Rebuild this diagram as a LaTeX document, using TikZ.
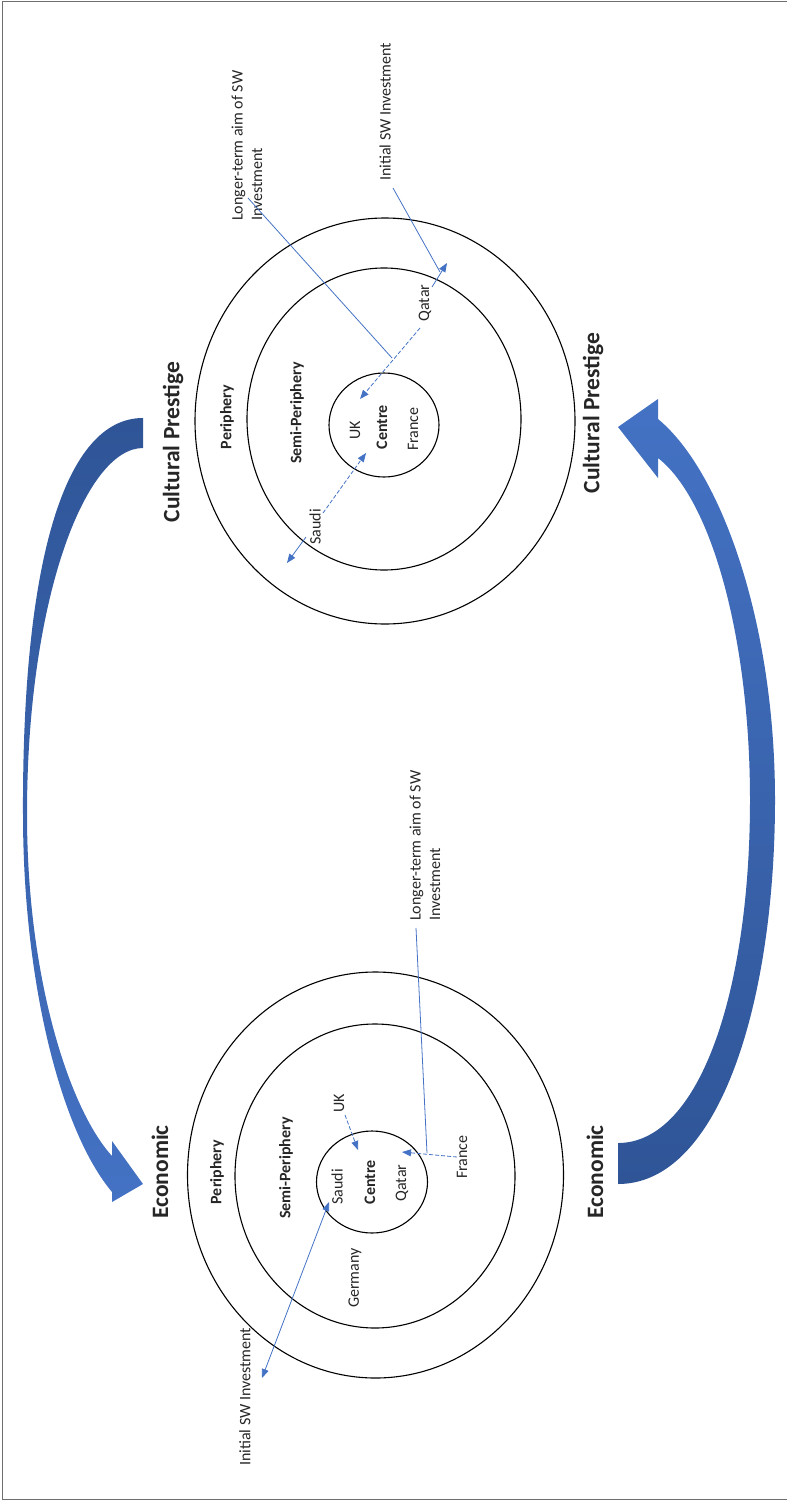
\documentclass[tikz,border=0pt]{standalone}
\usepackage{fontspec}
\setmainfont{Carlito}
\usetikzlibrary{arrows.meta,shapes.geometric}
\definecolor{lineblue}{RGB}{68,114,196}
\definecolor{darkblue}{RGB}{47,85,151}
\definecolor{txt}{RGB}{38,38,38}
\definecolor{framegray}{RGB}{110,110,110}
\begin{document}
\begin{tikzpicture}[x=1pt,y=-1pt,
  ring/.style={draw=black, line width=1.1pt, ellipse, inner sep=0pt},
  lbl/.style={rotate=90, text=txt, font=\fontsize{16}{19.5}\selectfont, inner sep=0pt},
  blbl/.style={rotate=90, text=txt, font=\bfseries\fontsize{16}{19.5}\selectfont, inner sep=0pt},
  bigl/.style={rotate=90, text=txt, font=\bfseries\fontsize{23.5}{28}\selectfont, inner sep=0pt},
  conn/.style={draw=lineblue, line width=0.8pt},
  dsh/.style={conn, dash pattern=on 4pt off 2pt},
  tip/.style={-{Triangle[length=9pt,width=7pt]}},
  tips/.style={{Triangle[length=9pt,width=7pt]}-{Triangle[length=9pt,width=7pt]}}
]
\useasboundingbox (0,0) rectangle (787,1501);
% frame
\draw[framegray, line width=1pt] (787,1.5) -- (2.5,1.5) -- (2.5,1499.5) -- (787,1499.5);

% ---------- top diagram: Cultural Prestige ----------
\node[ring, minimum width=380pt, minimum height=406pt] (tOuter) at (385,421) {};
\node[ring, minimum width=274pt, minimum height=302pt] (tMid) at (384,419) {};
\node[ring, minimum width=110pt, minimum height=104pt] (tIn) at (384,425) {};

\node[blbl] (tPer) at (227,417) {Periphery};
\node[blbl] (tSemi) at (297,413) {Semi-Periphery};
\node[lbl] (tUK) at (355,430) {UK};
\node[blbl] (tCen) at (382,427) {Centre};
\node[lbl] (tFra) at (413,429) {France};
\node[lbl] (tSau) at (315,527) {Saudi};
\node[lbl] (tQat) at (425,303) {Qatar};
\node[lbl, anchor=west] (tInit) at (385,181) {Initial SW Investment};
\node[lbl, anchor=west, align=left] (tLong) at (247,221) {Longer-term aim of SW\\Investment};

\coordinate (tsA) at (323,513);
\coordinate (tsB) at (366,453);
\coordinate (tsC) at (306,537);
\coordinate (tsD) at (287,563);
\coordinate (tqA) at (420,328);
\coordinate (tqB) at (360,399);
\coordinate (tqC) at (432,287);
\coordinate (tqD) at (447,263);
\coordinate (tiA) at (393,188);
\coordinate (tiB) at (440,272);
\coordinate (tlA) at (248,198);
\coordinate (tlB) at (392,358);
\draw[dsh, tip] (tsA) -- (tsB);
\draw[conn, tip] (tsC) -- (tsD);
\draw[dsh, tip] (tqA) -- (tqB);
\draw[conn, tip] (tqC) -- (tqD);
\draw[conn] (tiA) -- (tiB);
\draw[conn] (tlA) -- (tlB);

% ---------- bottom diagram: Economic ----------
\node[ring, minimum width=376pt, minimum height=406pt] (bOuter) at (375.5,1175) {};
\node[ring, minimum width=280pt, minimum height=304pt] (bMid) at (375,1176) {};
\node[ring, minimum width=111pt, minimum height=102pt] (bIn) at (372,1182) {};

\node[blbl] (bPer) at (217,1172) {Periphery};
\node[blbl] (bSemi) at (286,1168) {Semi-Periphery};
\node[lbl] (bUK) at (339,1103) {UK};
\node[lbl] (bSau) at (337,1187) {Saudi};
\node[blbl] (bCen) at (370,1182) {Centre};
\node[lbl] (bQat) at (402,1183) {Qatar};
\node[lbl] (bFra) at (462,1157) {France};
\node[lbl] (bGer) at (355,1278) {Germany};
\node[lbl, anchor=west] (bInit) at (245,1466) {Initial SW Investment};
\node[lbl, anchor=west, align=left] (bLong) at (425,921) {Longer-term aim of SW\\Investment};

\coordinate (buA) at (345,1115);
\coordinate (buB) at (358,1150);
\coordinate (bfA) at (457,1157);
\coordinate (bfB) at (402,1152);
\coordinate (blA) at (416,928);
\coordinate (blB) at (427,1153);
\coordinate (biA) at (262,1378);
\coordinate (biB) at (329,1202);
\draw[dsh, tip] (buA) -- (buB);
\draw[dsh, tip] (bfA) -- (bfB);
\draw[conn] (blA) -- (blB);
\draw[conn, tips] (biA) -- (biB);

% ---------- side labels ----------
\node[bigl] (cpL) at (173,442) {Cultural Prestige};
\node[bigl] (cpR) at (593,413) {Cultural Prestige};
\node[bigl] (ecL) at (160,1172) {Economic};
\node[bigl] (ecR) at (595,1172) {Economic};

% ---------- big curved arrows ----------
\shade[top color=darkblue, bottom color=lineblue]
  (143,418) .. controls (65,418) and (22,560) .. (23,814)
  .. controls (23,980) and (60,1130) .. (112,1192)
  -- (112,1202) -- (143,1184) -- (112,1141) -- (112,1156)
  .. controls (70,1110) and (27,980) .. (27,814)
  .. controls (27,600) and (85,448) .. (143,448) -- cycle;

\shade[top color=lineblue, bottom color=darkblue]
  (658,419) .. controls (720,470) and (775,620) .. (775,800)
  .. controls (775,1000) and (720,1184) .. (618,1184)
  -- (618,1143)
  .. controls (700,1143) and (750,990) .. (750,800)
  .. controls (750,640) and (712,500) .. (658,458)
  -- (658,478) -- (618,427) -- (658,399) -- cycle;
\end{tikzpicture}
\end{document}
